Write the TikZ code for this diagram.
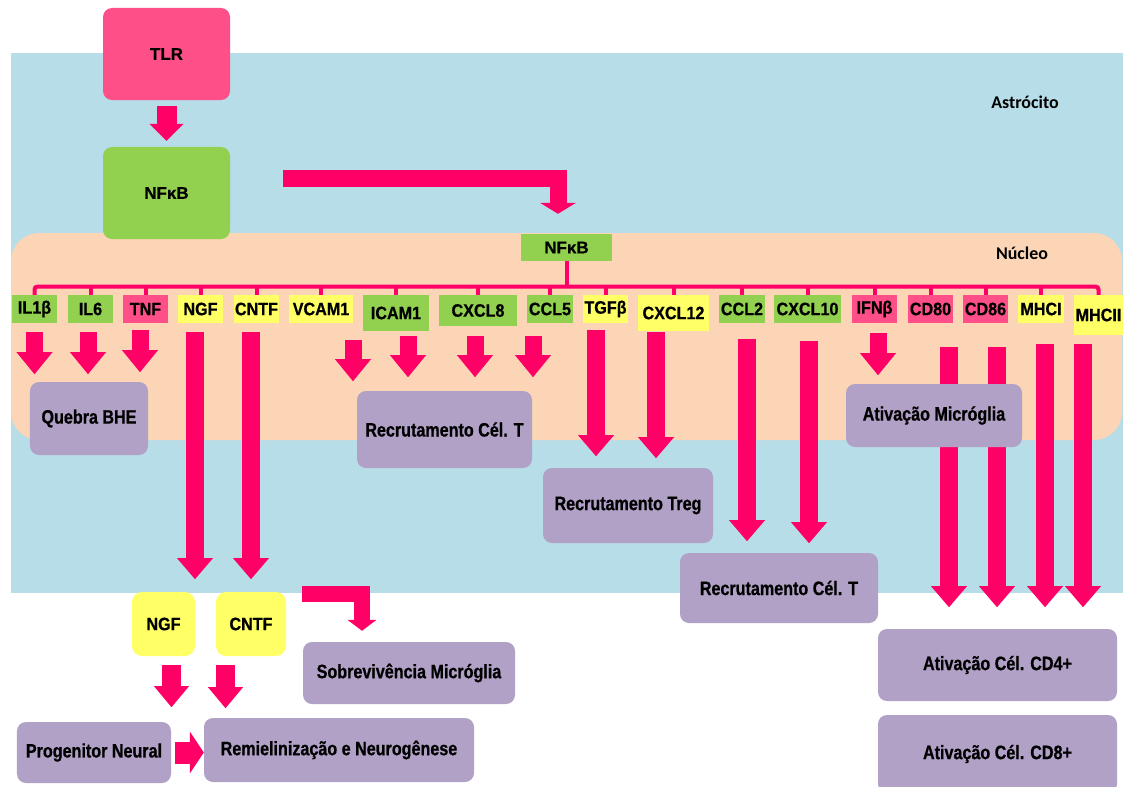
\documentclass[tikz,border=0pt]{standalone}
\usepackage{fontspec}
\setmainfont{Liberation Sans}[BoldFeatures={FakeBold=0.6}]
\newfontfamily\narrowf{Liberation Sans}[FakeStretch=0.83, BoldFeatures={FakeBold=0.7}]
\newfontfamily\labf{Liberation Sans}[FakeStretch=0.9, BoldFeatures={FakeBold=0.6}]
\newfontfamily\calf{Carlito}
\usetikzlibrary{arrows.meta}
\definecolor{astro}{HTML}{B7DDE8}
\definecolor{nucl}{HTML}{FBD5B5}
\definecolor{arr}{HTML}{FF0066}
\definecolor{pinkb}{HTML}{FF4F88}
\definecolor{greenb}{HTML}{92D050}
\definecolor{yellowb}{HTML}{FFFF66}
\definecolor{purpb}{HTML}{B1A1C7}
\tikzset{
  lab/.style={inner sep=0pt, font=\labf\bfseries\fontsize{18}{20}\selectfont, text=black},
  glab/.style={lab, fill=greenb},
  ylab/.style={lab, fill=yellowb},
  plab/.style={lab, fill=pinkb},
  bigbox/.style={inner sep=0pt, rounded corners=9bp, font=\bfseries\fontsize{17}{19}\selectfont},
  purp/.style={inner sep=0pt, rounded corners=9bp, fill=purpb, font=\narrowf\bfseries\fontsize{19.5}{22}\selectfont},
  brk/.style={draw=arr, line width=4bp, rounded corners=3bp},
  sarr/.style={draw=arr, line width=17bp, -{Triangle[width=36bp,length=22bp,line width=0pt]}},
  larr/.style={draw=arr, line width=18bp, -{Triangle[width=36bp,length=21bp,line width=0pt]}},
  tarr/.style={draw=arr, line width=20bp, -{Triangle[width=34bp,length=17bp,line width=0pt]}},
  barr/.style={draw=arr, line width=17bp, -{Triangle[width=36bp,length=11bp,line width=0pt]}},
  barrb/.style={draw=arr, line width=16bp, -{Triangle[width=29bp,length=11bp,line width=0pt]}},
  harr/.style={draw=arr, line width=22bp, -{Triangle[width=42bp,length=14bp,line width=0pt]}},
  darr/.style={draw=arr, line width=19bp, -{Triangle[width=35bp,length=21bp,line width=0pt]}},
  cell/.style={font=\calf\bfseries\fontsize{18}{20}\selectfont}
}
\begin{document}
\begin{tikzpicture}[x=1bp,y=-1bp]
\useasboundingbox (0,0) rectangle (1127,787);
% cell and nucleus
\fill[astro] (11,53) rectangle (1123,593);
\fill[nucl, rounded corners=28bp] (11,233) rectangle (1122,440);
\node[cell] (astl) at (1025,102) {Astrócito};
\node[cell] (nucl) at (1022,253) {Núcleo};
% top boxes
\node[bigbox, fill=pinkb, minimum width=127bp, minimum height=92bp] (tlr) at (166.5,54) {TLR};
\node[bigbox, fill=greenb, minimum width=127bp, minimum height=92bp] (nfkb) at (166.5,193) {NFκB};
\node[inner sep=0pt, fill=greenb, minimum width=91bp, minimum height=27bp, font=\bfseries\fontsize{17}{19}\selectfont] (nfkbs) at (566.5,247.5) {NFκB};
% labels
\node[glab, minimum width=45bp, minimum height=28bp] (il1b) at (34.5,309) {IL1β};
\node[glab, minimum width=45bp, minimum height=28bp] (il6) at (90.5,309) {IL6};
\node[plab, minimum width=45bp, minimum height=28bp] (tnf) at (145.5,309) {TNF};
\node[ylab, minimum width=45bp, minimum height=28bp] (ngf) at (200.5,309) {NGF};
\node[ylab, minimum width=45bp, minimum height=28bp] (cntf) at (256.5,309) {CNTF};
\node[ylab, minimum width=64bp, minimum height=28bp] (vcam) at (321,309) {VCAM1};
\node[glab, minimum width=66bp, minimum height=36bp] (icam) at (396,313) {ICAM1};
\node[glab, minimum width=78bp, minimum height=31bp] (cxcl8) at (478,310.5) {CXCL8};
\node[glab, minimum width=46bp, minimum height=28bp] (ccl5) at (550,309) {CCL5};
\node[ylab, minimum width=45bp, minimum height=28bp] (tgfb) at (605.5,309) {TGFβ};
\node[ylab, minimum width=71bp, minimum height=36bp] (cxcl12) at (673.5,313) {CXCL12};
\node[glab, minimum width=46bp, minimum height=28bp] (ccl2) at (742,309) {CCL2};
\node[glab, minimum width=67bp, minimum height=28bp] (cxcl10) at (807.5,309) {CXCL10};
\node[plab, minimum width=45bp, minimum height=28bp] (ifnb) at (874.5,309) {IFNβ};
\node[plab, minimum width=45bp, minimum height=28bp] (cd80) at (930.5,309) {CD80};
\node[plab, minimum width=45bp, minimum height=28bp] (cd86) at (985.5,309) {CD86};
\node[ylab, minimum width=46bp, minimum height=28bp] (mhci) at (1041,309) {MHCI};
\node[ylab, minimum width=49bp, minimum height=40bp] (mhcii) at (1098.5,315) {MHCII};
% bracket
\coordinate (bar) at (566.5,286.5);
\draw[brk] (il1b.north) |- (bar) -| (mhcii.north);
\foreach \n in {il6,tnf,ngf,cntf,vcam,icam,cxcl8,ccl5,tgfb,cxcl12,ccl2,cxcl10,ifnb,cd80,cd86,mhci}
  \draw[brk] (\n.north) -- (\n.north |- bar);
\draw[brk] (nfkbs.south) -- (bar);
% lower boxes referenced by arrows
\node[bigbox, fill=yellowb, rounded corners=10bp, minimum width=63bp, minimum height=64bp, font=\labf\bfseries\fontsize{18}{20}\selectfont] (ngfs) at (163.5,624) {NGF};
\node[bigbox, fill=yellowb, rounded corners=10bp, minimum width=70bp, minimum height=64bp, font=\labf\bfseries\fontsize{18}{20}\selectfont] (cntfs) at (251,624) {CNTF};
\node[purp, minimum width=212bp, minimum height=62bp] (sobr) at (409,673) {Sobrevivência Micróglia};
\node[purp, minimum width=270bp, minimum height=64bp] (rem) at (339,750) {Remielinização e Neurogênese};
\node[purp, minimum width=154bp, minimum height=61bp] (prog) at (94,752.5) {Progenitor Neural};
% arrows
\draw[tarr] ([yshift=-6bp]tlr.south) -- ([yshift=6bp]nfkb.north);
\draw[barr] ([xshift=53bp,yshift=15bp]nfkb.east) -| ([xshift=-8.5bp,yshift=20bp]nfkbs.north);
\draw[sarr] ([yshift=-9bp]il1b.south) -- ++(0,42);
\draw[sarr] ([xshift=-2.5bp,yshift=-9bp]il6.south) -- ++(0,42);
\draw[sarr] ([xshift=-5.5bp,yshift=-7bp]tnf.south) -- ++(0,42);
\draw[larr] ([xshift=-5.5bp,yshift=-9bp]ngf.south) -- ++(0,247);
\draw[larr] ([xshift=-5.5bp,yshift=-9bp]cntf.south) -- ++(0,247);
\draw[sarr] ([xshift=32bp,yshift=-17bp]vcam.south) -- ++(0,41);
\draw[sarr] ([xshift=12bp,yshift=-5bp]icam.south) -- ++(0,41);
\draw[sarr] ([xshift=-3bp,yshift=-10bp]cxcl8.south) -- ++(0,41);
\draw[sarr] ([xshift=-17bp,yshift=-13bp]ccl5.south) -- ++(0,41);
\draw[larr] ([xshift=-9.5bp,yshift=-7bp]tgfb.south) -- ++(0,126);
\draw[larr] ([xshift=-17.5bp,yshift=-1bp]cxcl12.south) -- ++(0,126);
\draw[larr] ([xshift=5bp,yshift=-16bp]ccl2.south) -- ++(0,202);
\draw[larr] ([xshift=1.5bp,yshift=-18bp]cxcl10.south) -- ++(0,202);
\draw[sarr] ([xshift=3.5bp,yshift=-10bp]ifnb.south) -- ++(0,42);
\draw[larr] ([xshift=18.5bp,yshift=-24bp]cd80.south) -- ++(0,260);
\draw[larr] ([xshift=11.5bp,yshift=-24bp]cd86.south) -- ++(0,260);
\draw[larr] ([xshift=4bp,yshift=-21bp]mhci.south) -- ++(0,263);
\draw[larr] ([xshift=-15.5bp,yshift=-9bp]mhcii.south) -- ++(0,263);
\draw[barrb] ([xshift=16bp,yshift=30.5bp]cntfs.east) -| ([xshift=-47bp,yshift=11bp]sobr.north);
\draw[darr] ([xshift=8bp,yshift=-9bp]ngfs.south) -- ++(0,42);
\draw[darr] ([xshift=-25.5bp,yshift=-9bp]cntfs.south) -- ++(0,43);
\draw[harr] (prog.east) ++(4,0) -- (prog.east -| rem.west);
% result boxes
\node[purp, minimum width=118bp, minimum height=73bp] (bhe) at (89,418.5) {Quebra BHE};
\node[purp, minimum width=175bp, minimum height=77bp] (rec1) at (444.5,429.5) {Recrutamento Cél. T};
\node[purp, minimum width=170bp, minimum height=75bp] (treg) at (628,505.5) {Recrutamento Treg};
\node[purp, minimum width=198bp, minimum height=70bp] (rec2) at (779,588) {Recrutamento Cél. T};
\node[purp, minimum width=176bp, minimum height=63bp] (ativ) at (934,415.5) {Ativação Micróglia};
\node[purp, minimum width=239bp, minimum height=72bp] (cd4) at (997.5,665) {Ativação Cél. CD4+};
\node[purp, minimum width=239bp, minimum height=78bp] (cd8) at (997.5,754) {Ativação Cél. CD8+};
\end{tikzpicture}
\end{document}
